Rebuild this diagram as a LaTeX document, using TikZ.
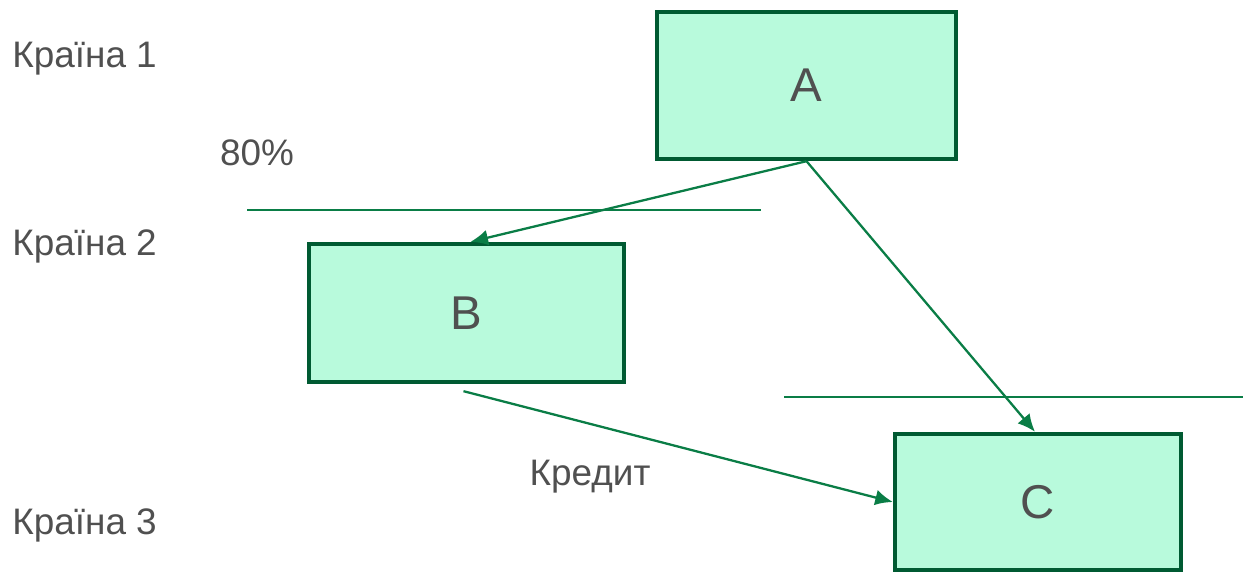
\documentclass[tikz,border=0pt]{standalone}
\usepackage{fontspec}
\setmainfont{Liberation Sans}
\usetikzlibrary{arrows.meta}
\definecolor{boxfill}{RGB}{184,250,220}
\definecolor{boxline}{RGB}{0,90,50}
\definecolor{arrgreen}{RGB}{10,125,70}
\definecolor{txtgray}{RGB}{80,80,80}
\tikzset{
  firm/.style={draw=boxline,fill=boxfill,line width=2.5pt,text=txtgray,
    font=\fontsize{27}{30}\selectfont,inner sep=0pt},
  lbl/.style={text=txtgray,font=\fontsize{21}{24}\selectfont,inner sep=0pt},
  flow/.style={draw=arrgreen,line width=1.3pt,-{Latex[length=10pt,width=9pt]}},
  border/.style={draw=arrgreen,line width=0.8pt}
}
\begin{document}
\begin{tikzpicture}[x=0.02cm,y=-0.02cm]
  \useasboundingbox (0,0) rectangle (1243,574);
  % країни
  \node[lbl,anchor=west] (k1) at (12,59) {Країна 1};
  \node[lbl,anchor=west] (k2) at (12,246) {Країна 2};
  \node[lbl,anchor=west] (k3) at (12,525) {Країна 3};
  \node[lbl] (pct) at (257,153) {80\%};
  \node[lbl] (kred) at (590,477) {Кредит};
  % межі
  \coordinate (m1a) at (247,210); \coordinate (m1b) at (761,210);
  \coordinate (m2a) at (784,397); \coordinate (m2b) at (1243,397);
  \draw[border] (m1a)--(m1b);
  \draw[border] (m2a)--(m2b);
  % фірми
  \node[firm,minimum width=5.98cm,minimum height=2.94cm] (A) at (806.5,85.5) {A};
  \node[firm,minimum width=6.30cm,minimum height=2.76cm] (B) at (466.5,313) {B};
  \node[firm,minimum width=5.72cm,minimum height=2.72cm] (C) at (1038,502) {C};
  \draw[flow] (A.south) -- ([xshift=0.08cm]B.north);
  \draw[flow] (A.south) -- ([xshift=-0.06cm]C.north);
  \draw[flow] ([yshift=-0.14cm,xshift=-0.06cm]B.south) -- (C.west);
\end{tikzpicture}
\end{document}
